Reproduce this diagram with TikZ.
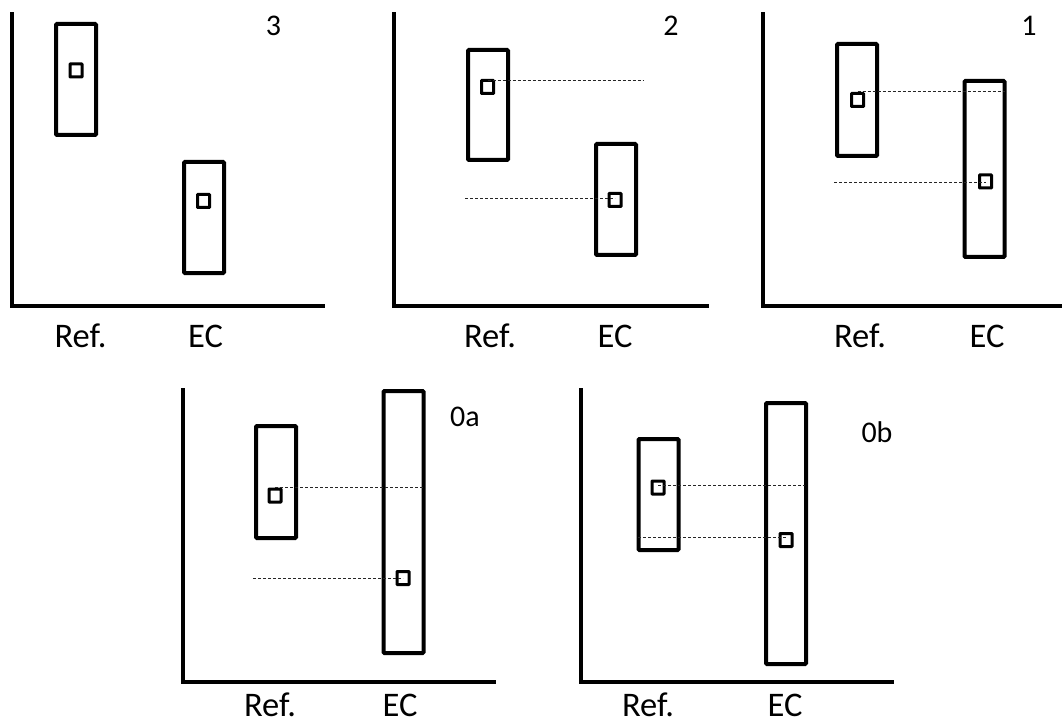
\documentclass[tikz,border=0pt]{standalone}
\usepackage{fontspec}
\setmainfont{Carlito}
\begin{document}
\begin{tikzpicture}[x=1pt,y=-1pt,
  axisline/.style={line width=3.5pt, line cap=rect},
  barbox/.style={draw, line width=4pt, minimum width=40pt, inner sep=0pt, rounded corners=1pt},
  sqbox/.style={draw, line width=3pt, minimum width=12pt, minimum height=13pt, inner sep=0pt, rounded corners=0.5pt},
  dashline/.style={line width=0.9pt, dash pattern=on 3pt off 2pt, black!85},
  axlabel/.style={anchor=base, inner sep=0pt, font=\fontsize{34.5}{40}\selectfont},
  panlabel/.style={anchor=base, inner sep=0pt, font=\fontsize{30}{35}\selectfont}]
\useasboundingbox (0,0) rectangle (1062,727);

% ---------- Panel 3 ----------
\draw[axisline] (12,14) -- (12,306) -- (323,306);
\node[barbox, minimum height=111pt] (r3) at (76,79.5) {};
\node[sqbox] (rs3) at (76,70.5) {};
\node[barbox, minimum height=111pt] (e3) at (204,217.5) {};
\node[sqbox] (es3) at (203.5,201) {};
\node[panlabel] (l3) at (273.5,36) {3};
\node[axlabel] (x3a) at (80.5,347) {Ref.};
\node[axlabel] (x3b) at (205.5,347) {EC};

% ---------- Panel 2 ----------
\draw[axisline] (394,14) -- (394,306) -- (707,306);
\node[barbox, minimum height=110pt] (r2) at (488,105) {};
\node[sqbox] (rs2) at (487.5,87) {};
\node[barbox, minimum height=111pt] (e2) at (616,199.5) {};
\node[sqbox] (es2) at (615,200) {};
\coordinate (d2a) at (643,80);
\coordinate (d2b) at (465,198.5);
\draw[dashline] (rs2.center |- d2a) -- (d2a);
\draw[dashline] (d2b) -- (es2.center |- d2b);
\node[panlabel] (l2) at (671,36) {2};
\node[axlabel] (x2a) at (490,347) {Ref.};
\node[axlabel] (x2b) at (615,347) {EC};

% ---------- Panel 1 ----------
\draw[axisline] (763,14) -- (763,306) -- (1064,306);
\node[barbox, minimum height=112pt] (r1) at (857,100) {};
\node[sqbox] (rs1) at (857.5,100) {};
\node[barbox, minimum height=176pt] (e1) at (984.5,169) {};
\node[sqbox] (es1) at (985.5,181.5) {};
\coordinate (d1a) at (1005,91);
\coordinate (d1b) at (834,182.5);
\draw[dashline] (rs1.center |- d1a) -- (d1a);
\draw[dashline] (d1b) -- (es1.center |- d1b);
\node[panlabel] (l1) at (1029,36) {1};
\node[axlabel] (x1a) at (860,347) {Ref.};
\node[axlabel] (x1b) at (987,347) {EC};

% ---------- Panel 0a ----------
\draw[axisline] (183,390) -- (183,682) -- (494,682);
\node[barbox, minimum height=112pt] (r0a) at (276,482) {};
\node[sqbox] (rs0a) at (275,495.5) {};
\node[barbox, minimum height=262pt] (e0a) at (403.5,522) {};
\node[sqbox] (es0a) at (403,578) {};
\coordinate (d0aa) at (424,487);
\coordinate (d0ab) at (253,578.5);
\draw[dashline] (rs0a.center |- d0aa) -- (d0aa);
\draw[dashline] (d0ab) -- (es0a.center |- d0ab);
\node[panlabel] (l0a) at (465,426) {0a};
\node[axlabel] (x0aa) at (270,716) {Ref.};
\node[axlabel] (x0ab) at (400,716) {EC};

% ---------- Panel 0b ----------
\draw[axisline] (581,390) -- (581,682) -- (892,682);
\node[barbox, minimum height=111pt] (r0b) at (658.5,494.5) {};
\node[sqbox] (rs0b) at (658,487.5) {};
\node[barbox, minimum height=261pt] (e0b) at (786,533.5) {};
\node[sqbox] (es0b) at (786,540) {};
\coordinate (d0ba) at (805,485.5);
\coordinate (d0bb) at (638,537);
\draw[dashline] (rs0b.center |- d0ba) -- (d0ba);
\draw[dashline] (d0bb) -- (es0b.center |- d0bb);
\node[panlabel] (l0b) at (877,442) {0b};
\node[axlabel] (x0ba) at (648,716) {Ref.};
\node[axlabel] (x0bb) at (785,716) {EC};
\end{tikzpicture}
\end{document}
